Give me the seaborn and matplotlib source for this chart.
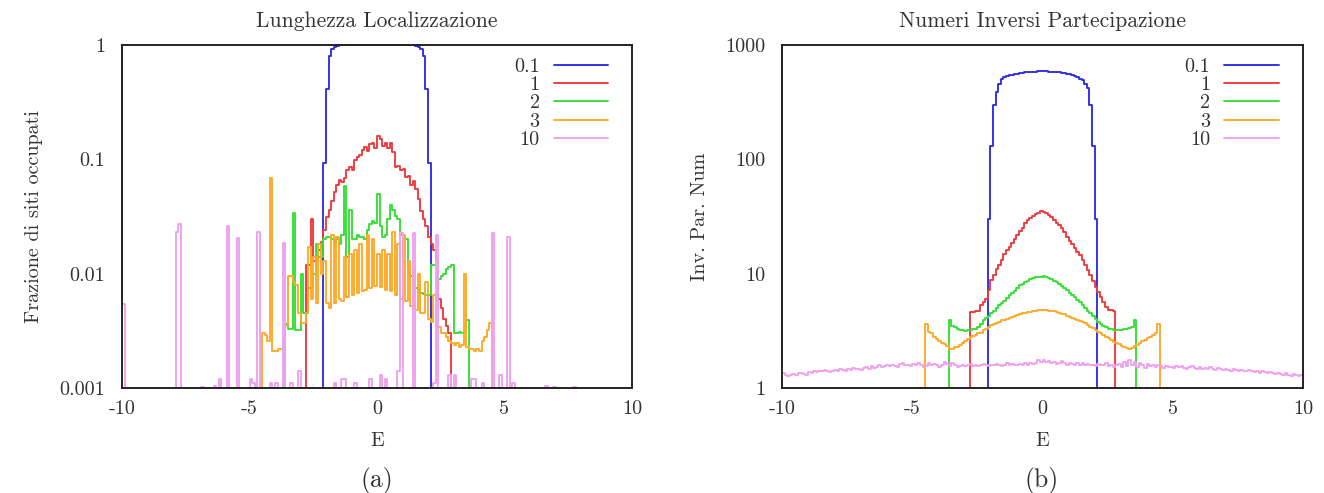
import numpy as np
import pandas as pd
import matplotlib
matplotlib.use("Agg")
import matplotlib.pyplot as plt
from matplotlib.ticker import LogLocator, NullFormatter, FixedLocator
import seaborn as sns

# ---------------- data ----------------
BIN = 0.1
series_labels = ["0.1", "1", "2", "3", "10"]
series_colors = ["#2c2ce6", "#f0383a", "#33e033", "#ffa826", "#f0a0f0"]

# ---- panel (a): Lunghezza Localizzazione (fraction of occupied sites) ----
a_blue_start = -2.1
a_blue = [0.092, 0.41, 0.80, 0.92, 0.97, 0.985] + [0.99] * 30 + [0.985, 0.97, 0.92, 0.80, 0.41, 0.092]

a_red_start = -2.8
a_red = [0.012, 0.012, 0.030, 0.013, 0.013, 0.016, 0.019, 0.024, 0.031, 0.036,
         0.043, 0.052, 0.060, 0.066, 0.063, 0.068, 0.080, 0.085, 0.081, 0.098,
         0.105, 0.110, 0.120, 0.128, 0.118, 0.135, 0.140, 0.125, 0.160, 0.150,
         0.130, 0.140, 0.125, 0.138, 0.115, 0.085, 0.088, 0.080, 0.082, 0.070,
         0.072, 0.060, 0.065, 0.055, 0.045, 0.035, 0.030, 0.026, 0.021, 0.018,
         0.016, 0.013, 0.006, 0.005, 0.004, 0.0035, 0.0030]

a_green_start = -3.6
a_green = [0.0036, 0.0033, 0.0033, 0.034, 0.0032, 0.0032, 0.010, 0.0045, 0.0045, 0.0075,
           0.0075, 0.010, 0.018, 0.014, 0.014, 0.020, 0.021, 0.021, 0.020, 0.018,
           0.020, 0.018, 0.022, 0.058, 0.014, 0.036, 0.020, 0.020, 0.022, 0.021,
           0.021, 0.020, 0.024, 0.027, 0.029, 0.028, 0.050, 0.026, 0.021, 0.022,
           0.030, 0.040, 0.036, 0.032, 0.030, 0.022, 0.021, 0.020, 0.010, 0.0095,
           0.0077, 0.0075, 0.0072, 0.0068, 0.0066, 0.0065, 0.0065, 0.012, 0.012, 0.012,
           0.009, 0.0095, 0.010, 0.011, 0.0115, 0.012, 0.0030, 0.0030, 0.0031, 0.0030,
           0.0031, 0.0039]

a_orange_start = -4.5
a_orange = [0.0030, 0.0029, 0.0026, 0.068, 0.0021, 0.0021, 0.0022, 0.0022, 0.0026, 0.0035,
            0.0095, 0.0095, 0.0085, 0.0080, 0.0045, 0.0037, 0.0037, 0.0045, 0.017, 0.0060,
            0.014, 0.0055, 0.018, 0.010, 0.013, 0.0055, 0.0050, 0.022, 0.0055, 0.021,
            0.0060, 0.0058, 0.014, 0.0062, 0.015, 0.0065, 0.016, 0.0068, 0.018, 0.0070,
            0.0072, 0.022, 0.0075, 0.020, 0.0078, 0.015, 0.0077, 0.016, 0.0072, 0.015,
            0.0070, 0.023, 0.0065, 0.018, 0.0060, 0.022, 0.0058, 0.013, 0.0052, 0.011,
            0.0048, 0.010, 0.0045, 0.0045, 0.0085, 0.0040, 0.0038, 0.0065, 0.0035, 0.0034,
            0.0030, 0.0030, 0.0028, 0.0026, 0.0025, 0.0024, 0.0025, 0.0023, 0.0024, 0.010,
            0.0023, 0.0022, 0.0022, 0.0021, 0.0022, 0.0021, 0.0026, 0.0028, 0.0032, 0.0037]

# pink (10): mostly below 0.001, isolated spikes and small bumps
a_pink_spike_E = [-10.0, -7.9, -7.8, -5.9, -5.5, -4.7, -3.7, 0.9, 1.4, 2.3, 4.5, 5.1]
a_pink_spike_val = [0.0054, 0.023, 0.027, 0.026, 0.0205, 0.023, 0.0185, 0.0225, 0.0225, 0.022, 0.0225, 0.021]
a_pink_bump_E = [-6.9, -6.4, -6.2, -5.0, -4.9, -4.2, -4.0, -3.4, -3.1, -1.7, -1.4, -1.3,
                 -0.9, -0.3, 0.1, 0.3, 0.8, 2.2, 2.8, 3.0, 3.7, 3.8, 4.1, 4.8, 5.3, 6.6, 6.9, 7.7]
a_pink_bump_val = [0.00102, 0.00105, 0.0012, 0.0012, 0.0011, 0.0011, 0.0011, 0.0011, 0.0014, 0.0011,
                   0.0012, 0.0012, 0.0011, 0.0012, 0.0013, 0.0012, 0.0014, 0.0011, 0.0013, 0.0013,
                   0.0012, 0.0012, 0.0011, 0.0013, 0.0011, 0.00105, 0.00103, 0.00103]

# ---- panel (b): Numeri Inversi Partecipazione ----
b_blue_start = -2.1
b_blue = [30, 130, 300, 390, 460, 505, 525, 535, 545, 552,
          558, 563, 568, 572, 576, 579, 582, 584, 586, 587,
          588, 588, 587, 586, 584, 582, 579, 576, 572, 567,
          561, 554, 546, 536, 522, 505, 495, 460, 420, 300,
          130, 30]

b_red_start = -2.8
b_red = [4.6, 4.6, 4.7, 4.7, 5.3, 5.7, 6.0, 7.2, 8.8, 9.8,
         11.0, 12.0, 13.1, 14.8, 16.0, 17.2, 18.6, 20.3, 22.0, 23.6,
         25.0, 27.5, 29.5, 30.5, 32.0, 33.2, 34.0, 35.0, 34.5, 34.0,
         32.5, 31.5, 29.5, 28.0, 26.5, 25.0, 23.0, 21.0, 19.5, 18.0,
         16.8, 15.5, 14.6, 13.2, 11.9, 10.8, 9.7, 8.6, 7.6, 6.9,
         6.2, 5.6, 5.1, 4.8, 4.8, 4.7]

b_green_start = -3.6
b_green = [3.9, 3.5, 3.4, 3.3, 3.2, 3.2, 3.15, 3.2, 3.2, 3.25,
           3.3, 3.4, 3.6, 3.9, 4.1, 4.3, 4.5, 4.7, 5.0, 5.3,
           5.5, 5.8, 6.1, 6.5, 6.8, 7.1, 7.5, 7.9, 8.2, 8.5,
           8.7, 8.9, 9.1, 9.3, 9.4, 9.4, 9.5, 9.3, 9.1, 9.0,
           8.7, 8.4, 8.1, 7.8, 7.5, 7.2, 6.8, 6.5, 6.2, 5.9,
           5.6, 5.3, 5.0, 4.7, 4.5, 4.3, 4.0, 3.8, 3.6, 3.5,
           3.4, 3.3, 3.25, 3.2, 3.2, 3.2, 3.2, 3.25, 3.3, 3.35,
           3.4, 3.9]

b_orange_start = -4.5
b_orange = [3.6, 3.1, 3.0, 2.8, 2.7, 2.6, 2.5, 2.45, 2.35, 2.2,
            2.2, 2.3, 2.3, 2.4, 2.5, 2.6, 2.7, 2.8, 2.85, 2.9,
            3.0, 3.05, 3.2, 3.25, 3.4, 3.55, 3.65, 3.7, 3.8, 3.9,
            3.95, 4.05, 4.1, 4.2, 4.25, 4.35, 4.4, 4.5, 4.55, 4.6,
            4.65, 4.7, 4.75, 4.8, 4.85, 4.8, 4.85, 4.75, 4.7, 4.7,
            4.6, 4.55, 4.45, 4.4, 4.3, 4.2, 4.1, 4.05, 3.95, 3.85,
            3.8, 3.7, 3.55, 3.45, 3.35, 3.2, 3.1, 3.0, 2.9, 2.8,
            2.75, 2.65, 2.55, 2.5, 2.45, 2.35, 2.3, 2.25, 2.2, 2.25,
            2.35, 2.4, 2.5, 2.6, 2.65, 2.75, 2.8, 2.9, 3.0, 3.6]

b_pink_start = -10.0
b_pink = [1.35, 1.30, 1.28, 1.30, 1.33, 1.31, 1.36, 1.35, 1.32, 1.30,
          1.38, 1.36, 1.40, 1.37, 1.42, 1.40, 1.45, 1.40, 1.38, 1.41,
          1.43, 1.40, 1.46, 1.44, 1.42, 1.47, 1.45, 1.50, 1.46, 1.48,
          1.45, 1.50, 1.52, 1.48, 1.55, 1.50, 1.53, 1.58, 1.52, 1.55,
          1.58, 1.55, 1.60, 1.57, 1.54, 1.62, 1.66, 1.58, 1.60, 1.55,
          1.62, 1.58, 1.65, 1.60, 1.52, 1.56, 1.66, 1.60, 1.62, 1.58,
          1.54, 1.60, 1.70, 1.62, 1.56, 1.64, 1.58, 1.52, 1.57, 1.60,
          1.55, 1.58, 1.62, 1.56, 1.60, 1.55, 1.58, 1.62, 1.60, 1.57,
          1.60, 1.58, 1.63, 1.60, 1.56, 1.60, 1.64, 1.58, 1.62, 1.60,
          1.58, 1.62, 1.60, 1.66, 1.60, 1.64, 1.62, 1.66, 1.74, 1.70,
          1.76, 1.68, 1.72, 1.64, 1.70, 1.62, 1.66, 1.72, 1.64, 1.60,
          1.66, 1.62, 1.58, 1.64, 1.60, 1.66, 1.60, 1.62, 1.58, 1.60,
          1.56, 1.62, 1.58, 1.60, 1.64, 1.56, 1.60, 1.54, 1.58, 1.62,
          1.52, 1.68, 1.56, 1.74, 1.58, 1.70, 1.52, 1.64, 1.60, 1.50,
          1.62, 1.56, 1.60, 1.52, 1.58, 1.55, 1.50, 1.56, 1.52, 1.54,
          1.50, 1.55, 1.52, 1.56, 1.50, 1.48, 1.53, 1.56, 1.50, 1.48,
          1.52, 1.47, 1.50, 1.46, 1.52, 1.48, 1.45, 1.50, 1.47, 1.44,
          1.48, 1.45, 1.42, 1.46, 1.44, 1.40, 1.45, 1.42, 1.40, 1.43,
          1.40, 1.38, 1.42, 1.36, 1.40, 1.37, 1.34, 1.38, 1.35, 1.32,
          1.36, 1.33, 1.30, 1.34, 1.31, 1.28, 1.32, 1.30, 1.27, 1.30]

x_ticks = [-10, -5, 0, 5, 10]
x_tick_labels = ["-10", "-5", "0", "5", "10"]
a_y_ticks = [0.001, 0.01, 0.1, 1]
a_y_tick_labels = ["0.001", "0.01", "0.1", "1"]
b_y_ticks = [1, 10, 100, 1000]
b_y_tick_labels = ["1", "10", "100", "1000"]

# ---------------- helpers ----------------
def step_frame(start, values, floor, close=True):
    n = len(values)
    edges = start + BIN * np.arange(n + 1)
    if close:
        x = np.r_[edges[0], edges]
        y = np.r_[floor, values, floor]
    else:
        x = edges
        y = np.r_[values, values[-1]]
    return pd.DataFrame({"E": np.round(x, 4), "v": y})

def pink_full(spike_E, spike_val, bump_E, bump_val, floor):
    vals = np.full(200, floor)
    for e, v in zip(bump_E, bump_val):
        vals[int(round((e + 10) / BIN))] = v
    for e, v in zip(spike_E, spike_val):
        vals[int(round((e + 10) / BIN))] = v
    return vals

# ---------------- style ----------------
sns.set_theme(style="white")
plt.rcParams["font.family"] = ["cmr10", "DejaVu Serif"]
plt.rcParams["axes.unicode_minus"] = False
plt.rcParams["mathtext.fontset"] = "cm"
FS = 14.5
TXT = "#333333"

fig = plt.figure(figsize=(13.24, 4.93), dpi=100)
W, H = 1324, 493
ax_a = fig.add_axes([122 / W, (H - 388) / H, 510 / W, 343 / H])
ax_b = fig.add_axes([782 / W, (H - 388) / H, 521 / W, 343 / H])

LW = 1.35
# panel a
a_floor = 1e-4
a_sets = [(a_blue_start, a_blue), (a_red_start, a_red), (a_green_start, a_green),
          (a_orange_start, a_orange)]
for (st, vals), lab, col in zip(a_sets, series_labels[:4], series_colors[:4]):
    df = step_frame(st, vals, a_floor)
    sns.lineplot(data=df, x="E", y="v", ax=ax_a, color=col, lw=LW, label=lab,
                 drawstyle="steps-post", estimator=None, sort=False)
pk = pink_full(a_pink_spike_E, a_pink_spike_val, a_pink_bump_E, a_pink_bump_val, a_floor)
df = step_frame(-10.0, pk, a_floor, close=False)
sns.lineplot(data=df, x="E", y="v", ax=ax_a, color=series_colors[4], lw=LW, label=series_labels[4],
             drawstyle="steps-post", estimator=None, sort=False)

# panel b
b_floor = 0.1
b_sets = [(b_blue_start, b_blue), (b_red_start, b_red), (b_green_start, b_green),
          (b_orange_start, b_orange)]
for (st, vals), lab, col in zip(b_sets, series_labels[:4], series_colors[:4]):
    df = step_frame(st, vals, b_floor)
    sns.lineplot(data=df, x="E", y="v", ax=ax_b, color=col, lw=LW, label=lab,
                 drawstyle="steps-post", estimator=None, sort=False)
df = step_frame(b_pink_start, b_pink, b_floor, close=False)
sns.lineplot(data=df, x="E", y="v", ax=ax_b, color=series_colors[4], lw=LW, label=series_labels[4],
             drawstyle="steps-post", estimator=None, sort=False)

for ax, yt, ytl, ylim, ylab, title in [
        (ax_a, a_y_ticks, a_y_tick_labels, (0.001, 1), "Frazione di siti occupati", "Lunghezza Localizzazione"),
        (ax_b, b_y_ticks, b_y_tick_labels, (1, 1000), "Inv. Par. Num", "Numeri Inversi Partecipazione")]:
    ax.set_yscale("log")
    ax.set_xlim(-10, 10)
    ax.set_ylim(*ylim)
    ax.set_xticks(x_ticks)
    ax.set_xticklabels(x_tick_labels)
    ax.yaxis.set_major_locator(FixedLocator(yt))
    ax.set_yticklabels(ytl)
    ax.yaxis.set_minor_locator(LogLocator(base=10, subs=np.arange(2, 10)))
    ax.yaxis.set_minor_formatter(NullFormatter())
    ax.tick_params(axis="both", which="major", direction="in", length=6, width=1.0,
                   color="#222222", labelsize=FS, labelcolor=TXT, pad=9)
    ax.tick_params(axis="y", which="minor", direction="in", length=3.5, width=0.8, color="#222222")
    ax.tick_params(axis="y", which="major", pad=12)
    for sp in ax.spines.values():
        sp.set_linewidth(1.4)
        sp.set_color("#222222")
        sp.set_zorder(5)
    ax.set_xlabel("E", fontsize=FS, color=TXT, labelpad=10)
    ax.set_ylabel(ylab, fontsize=FS, color=TXT, labelpad=12)
    ax.set_title(title, fontsize=15.5, color=TXT, pad=13)
    ax.grid(False)
    leg = ax.legend(loc="upper right", bbox_to_anchor=(0.969, 0.985), frameon=False,
                    markerfirst=False, fontsize=FS, handlelength=2.7, handletextpad=0.7,
                    labelspacing=0.0, borderaxespad=0.0)
    for t in leg.get_texts():
        t.set_color(TXT)

fig.text(377 / W, 1 - 481 / H, "(a)", ha="center", va="center", fontsize=FS + 4, color=TXT)
fig.text(1042 / W, 1 - 481 / H, "(b)", ha="center", va="center", fontsize=FS + 4, color=TXT)

fig.savefig("out.png", dpi=100)
